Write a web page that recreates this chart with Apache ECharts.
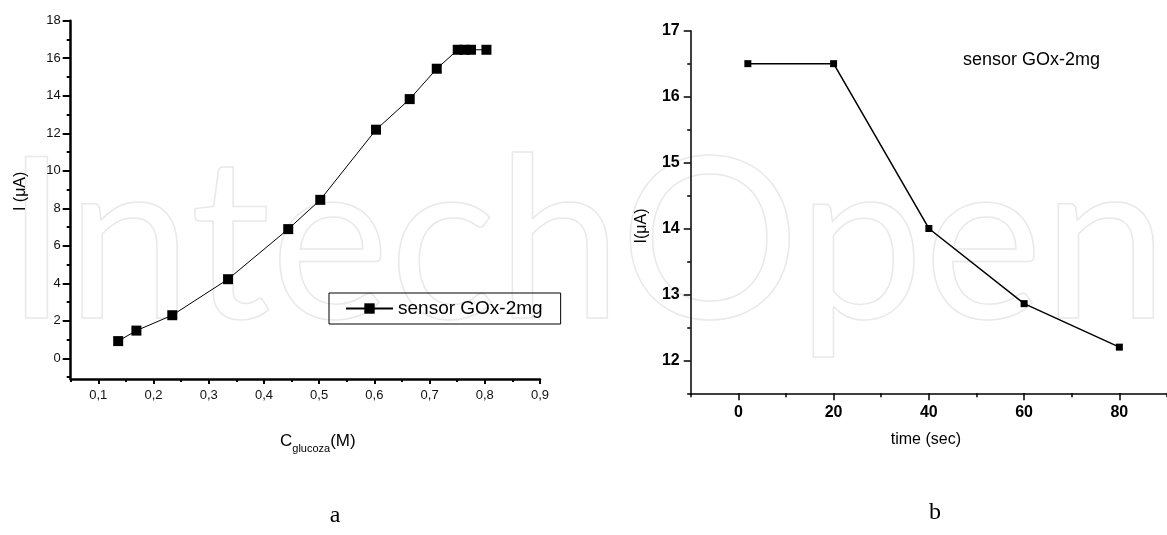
<!DOCTYPE html>
<html><head><meta charset="utf-8">
<script src="https://cdn.jsdelivr.net/npm/echarts@6/dist/echarts.min.js"></script>
<style>html,body{margin:0;padding:0;background:#fff}#c{width:1167px;height:535px}</style>
</head><body><div id="c"></div>
<script>
const seriesName = 'sensor GOx-2mg';
// chart a : current vs glucose concentration
const concA = [0.136, 0.169, 0.234, 0.335, 0.444, 0.502, 0.603, 0.664, 0.713, 0.751, 0.763, 0.775, 0.803];
const currentA = [0.92, 1.48, 2.30, 4.22, 6.89, 8.45, 12.19, 13.82, 15.44, 16.45, 16.45, 16.45, 16.45];
const xTicksA = [0.1, 0.2, 0.3, 0.4, 0.5, 0.6, 0.7, 0.8, 0.9];
const xMinorA = [0.05, 0.15, 0.25, 0.35, 0.45, 0.55, 0.65, 0.75, 0.85];
const yTicksA = [0, 2, 4, 6, 8, 10, 12, 14, 16, 18];
const yMinorA = [-1, 1, 3, 5, 7, 9, 11, 13, 15, 17];
// chart b : current vs time
const timeB = [2, 20, 40, 60, 80];
const currentB = [16.5, 16.5, 14.0, 12.86, 12.2];
const xTicksB = [0, 20, 40, 60, 80];
const xMinorB = [-10, 10, 30, 50, 70, 90];
const yTicksB = [12, 13, 14, 15, 16, 17];
const yMinorB = [11.5, 12.5, 13.5, 14.5, 15.5, 16.5];
const captions = ['a', 'b'];

const FONT = 'Liberation Sans, Arial, sans-serif';
const chart = echarts.init(document.getElementById('c'), null, {renderer: 'canvas'});

function minorAxis(grid, min, max, vals, len, w, dim) {
  return {
    gridIndex: grid, type: 'value', min: min, max: max,
    position: dim === 'x' ? 'bottom' : 'left',
    axisLine: {show: false, onZero: false}, axisLabel: {show: false}, splitLine: {show: false},
    axisTick: {show: true, customValues: vals, length: len, lineStyle: {color: '#000', width: w}}
  };
}

const option = {
  animation: false,
  backgroundColor: '#fff',
  textStyle: {fontFamily: FONT},
  title: {
    text: seriesName, left: 963, top: 51, padding: 0,
    textStyle: {fontSize: 18, fontWeight: 'normal', color: '#000', fontFamily: FONT}
  },
  legend: {
    data: [seriesName], left: 329, top: 293,
    padding: [6, 18, 6, 16], itemWidth: 47, itemHeight: 13, itemGap: 5,
    borderColor: '#000', borderWidth: 1, borderRadius: 0,
    textStyle: {fontSize: 19, color: '#000', fontFamily: FONT}
  },
  grid: [
    {left: 70.7, right: 627, top: 20.7, bottom: 156},
    {left: 690.7, right: -8.6, top: 30.7, bottom: 141.7}
  ],
  xAxis: [
    {
      gridIndex: 0, type: 'value', min: 0.05, max: 0.9, position: 'bottom',
      splitLine: {show: false},
      axisLine: {onZero: false, lineStyle: {color: '#000', width: 2.5}},
      axisTick: {customValues: xTicksA, length: 5, lineStyle: {color: '#000', width: 2}},
      axisLabel: {customValues: xTicksA, fontSize: 13, color: '#111', margin: 10,
        formatter: v => v.toFixed(1).replace('.', ',')},
      name: '{c|C}{s|glucoza}{c|(M)}', nameLocation: 'middle', nameGap: 50,
      nameTextStyle: {padding: [0, 0, 0, 25], rich: {
        c: {fontSize: 17, color: '#000', fontFamily: FONT},
        s: {fontSize: 11, color: '#000', fontFamily: FONT, padding: [14, 0, 0, 0]}
      }}
    },
    minorAxis(0, 0.05, 0.9, xMinorA, 3, 2, 'x'),
    {
      gridIndex: 1, type: 'value', min: -10, max: 90, position: 'bottom',
      splitLine: {show: false},
      axisLine: {onZero: false, lineStyle: {color: '#000', width: 1.5}},
      axisTick: {customValues: xTicksB, length: 7, lineStyle: {color: '#000', width: 1.5}},
      axisLabel: {customValues: xTicksB, fontSize: 16, fontWeight: 'bold', color: '#000', margin: 11},
      name: 'time (sec)', nameLocation: 'middle', nameGap: 38,
      nameTextStyle: {fontSize: 16, color: '#000', fontFamily: FONT, padding: [0, 6, 0, 0]}
    },
    minorAxis(1, -10, 90, xMinorB, 4, 1.5, 'x')
  ],
  yAxis: [
    {
      gridIndex: 0, type: 'value', min: -1.1, max: 18, position: 'left',
      splitLine: {show: false},
      axisLine: {onZero: false, lineStyle: {color: '#000', width: 2.5}},
      axisTick: {customValues: yTicksA, length: 8, lineStyle: {color: '#000', width: 2}},
      axisLabel: {customValues: yTicksA, fontSize: 13, color: '#111', margin: 10},
      name: 'I (\u03bcA)', nameLocation: 'middle', nameGap: 42,
      nameTextStyle: {fontSize: 16, color: '#000', fontFamily: FONT, padding: [0, 0, 0, 17]}
    },
    minorAxis(0, -1.1, 18, yMinorA, 4, 2, 'y'),
    {
      gridIndex: 1, type: 'value', min: 11.5, max: 17, position: 'left',
      splitLine: {show: false},
      axisLine: {onZero: false, lineStyle: {color: '#000', width: 1.5}},
      axisTick: {customValues: yTicksB, length: 7, lineStyle: {color: '#000', width: 1.5}},
      axisLabel: {customValues: yTicksB, fontSize: 16, fontWeight: 'bold', color: '#000', margin: 11},
      name: 'I(\u03bcA)', nameLocation: 'middle', nameGap: 41,
      nameTextStyle: {fontSize: 16, color: '#000', fontFamily: FONT, padding: [0, 28, 0, 0]}
    },
    minorAxis(1, 11.5, 17, yMinorB, 3.5, 1.5, 'y')
  ],
  series: [
    {
      name: seriesName, type: 'line', xAxisIndex: 0, yAxisIndex: 0,
      data: concA.map((x, i) => [x, currentA[i]]),
      symbol: 'rect', symbolSize: 10, color: '#000',
      itemStyle: {color: '#000'}, lineStyle: {color: '#000', width: 1}
    },
    {
      name: 'b', type: 'line', xAxisIndex: 2, yAxisIndex: 2,
      data: timeB.map((x, i) => [x, currentB[i]]),
      symbol: 'rect', symbolSize: 7, color: '#000',
      itemStyle: {color: '#000'}, lineStyle: {color: '#000', width: 1.5}
    }
  ],
  graphic: [
    {type: 'text', z: -10, silent: true, style: {
      text: 'IntechOpen', x: 5, y: 358, textVerticalAlign: 'bottom',
      font: '225px Lato, sans-serif', fill: 'rgba(0,0,0,0)', stroke: '#e9e9e9', lineWidth: 1.5
    }},
    {type: 'text', style: {text: captions[0], x: 335, y: 516, textAlign: 'center', textVerticalAlign: 'middle',
      font: '24px "Liberation Serif", serif', fill: '#000'}},
    {type: 'text', style: {text: captions[1], x: 935, y: 513, textAlign: 'center', textVerticalAlign: 'middle',
      font: '24px "Liberation Serif", serif', fill: '#000'}}
  ]
};
chart.setOption(option);
</script></body></html>
